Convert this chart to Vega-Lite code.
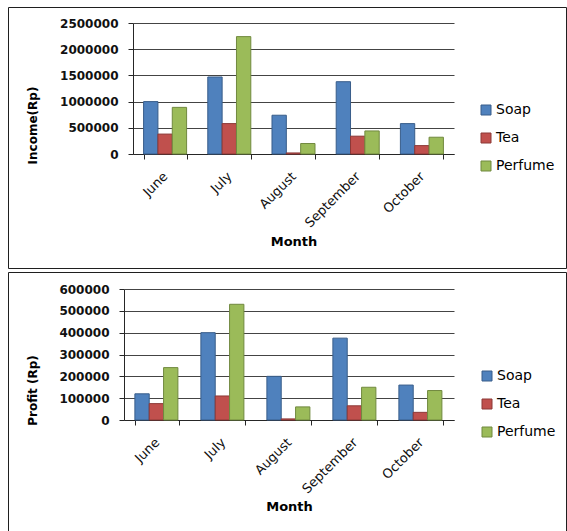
{
  "$schema": "https://vega.github.io/schema/vega-lite/v6.json",
  "padding": {"left": 3, "top": 6, "right": 0, "bottom": 0},
  "background": "white",
  "spacing": 2,
  "config": {
    "view": {"stroke": "#1f1f1f", "strokeWidth": 1},
    "font": "DejaVu Sans",
    "axis": {
      "domainColor": "#262626",
      "tickColor": "#262626",
      "gridColor": "#444444",
      "tickSize": 5,
      "labelColor": "#111",
      "titleColor": "#000",
      "titleFont": "DejaVu Sans",
      "titleFontWeight": "bold"
    },
    "axisX": {
      "labelFont": "DejaVu Sans",
      "labelFontSize": 13,
      "labelFontWeight": "normal",
      "labelAngle": -45,
      "labelAlign": "right",
      "labelBaseline": "middle",
      "labelPadding": 15,
      "tickBand": "extent",
      "grid": false,
      "titleFontSize": 13,
      "titleBaseline": "middle"
    },
    "axisY": {
      "labelFont": "DejaVu Sans",
      "labelFontSize": 12,
      "labelFontWeight": "bold",
      "labelPadding": 10,
      "grid": true,
      "format": "d",
      "titleFontSize": 12,
      "titleBaseline": "middle"
    },
    "legend": {
      "title": null,
      "orient": "none",
      "padding": 0,
      "symbolType": "square",
      "symbolSize": 100,
      "symbolStrokeWidth": 1,
      "labelFont": "DejaVu Sans",
      "labelFontSize": 14,
      "labelColor": "#000",
      "labelOffset": 3,
      "rowPadding": 14
    }
  },
  "datasets": {
    "income": [
      {"month": "June", "product": "Soap", "value": 1000000},
      {"month": "June", "product": "Tea", "value": 380000},
      {"month": "June", "product": "Perfume", "value": 890000},
      {"month": "July", "product": "Soap", "value": 1470000},
      {"month": "July", "product": "Tea", "value": 580000},
      {"month": "July", "product": "Perfume", "value": 2240000},
      {"month": "August", "product": "Soap", "value": 740000},
      {"month": "August", "product": "Tea", "value": 20000},
      {"month": "August", "product": "Perfume", "value": 200000},
      {"month": "September", "product": "Soap", "value": 1380000},
      {"month": "September", "product": "Tea", "value": 340000},
      {"month": "September", "product": "Perfume", "value": 440000},
      {"month": "October", "product": "Soap", "value": 580000},
      {"month": "October", "product": "Tea", "value": 160000},
      {"month": "October", "product": "Perfume", "value": 320000}
    ],
    "profit": [
      {"month": "June", "product": "Soap", "value": 120000},
      {"month": "June", "product": "Tea", "value": 75000},
      {"month": "June", "product": "Perfume", "value": 240000},
      {"month": "July", "product": "Soap", "value": 400000},
      {"month": "July", "product": "Tea", "value": 110000},
      {"month": "July", "product": "Perfume", "value": 530000},
      {"month": "August", "product": "Soap", "value": 200000},
      {"month": "August", "product": "Tea", "value": 5000},
      {"month": "August", "product": "Perfume", "value": 60000},
      {"month": "September", "product": "Soap", "value": 375000},
      {"month": "September", "product": "Tea", "value": 65000},
      {"month": "September", "product": "Perfume", "value": 150000},
      {"month": "October", "product": "Soap", "value": 160000},
      {"month": "October", "product": "Tea", "value": 35000},
      {"month": "October", "product": "Perfume", "value": 135000}
    ]
  },
  "resolve": {
    "scale": {"x": "independent", "y": "independent", "fill": "independent", "stroke": "independent"},
    "legend": {"fill": "independent", "stroke": "independent"}
  },
  "vconcat": [
    {
      "width": 558,
      "height": 261,
      "data": {"name": "income"},
      "mark": {"type": "bar", "strokeWidth": 1},
      "encoding": {
        "x": {
          "field": "month", "type": "nominal",
          "sort": ["June", "July", "August", "September", "October"],
          "scale": {"range": [125, 446], "paddingInner": 0.33, "paddingOuter": 0.165},
          "axis": {"title": "Month", "offset": -114, "titleY": 87}
        },
        "xOffset": {
          "field": "product", "type": "nominal",
          "sort": ["Soap", "Tea", "Perfume"],
          "scale": {"paddingInner": 0, "paddingOuter": 0}
        },
        "y": {
          "field": "value", "type": "quantitative",
          "scale": {"domain": [0, 2500000], "range": [147, 16], "nice": false},
          "axis": {
            "title": "Income(Rp)",
            "values": [0, 500000, 1000000, 1500000, 2000000, 2500000],
            "offset": -125, "titleX": -101, "titleY": 118
          }
        },
        "fill": {
          "field": "product", "type": "nominal",
          "scale": {"domain": ["Soap", "Tea", "Perfume"], "range": ["#4F81BD", "#C0504D", "#9BBB59"]},
          "legend": {"legendX": 471, "legendY": 96}
        },
        "stroke": {
          "field": "product", "type": "nominal",
          "scale": {"domain": ["Soap", "Tea", "Perfume"], "range": ["#385D8A", "#8C3836", "#71893F"]},
          "legend": {"legendX": 471, "legendY": 96}
        }
      }
    },
    {
      "width": 558,
      "height": 259,
      "data": {"name": "profit"},
      "mark": {"type": "bar", "strokeWidth": 1},
      "encoding": {
        "x": {
          "field": "month", "type": "nominal",
          "sort": ["June", "July", "August", "September", "October"],
          "scale": {"range": [116, 446], "paddingInner": 0.33, "paddingOuter": 0.165},
          "axis": {"title": "Month", "offset": -111, "titleY": 86}
        },
        "xOffset": {
          "field": "product", "type": "nominal",
          "sort": ["Soap", "Tea", "Perfume"],
          "scale": {"paddingInner": 0, "paddingOuter": 0}
        },
        "y": {
          "field": "value", "type": "quantitative",
          "scale": {"domain": [0, 600000], "range": [148, 17], "nice": false},
          "axis": {
            "title": "Profit (Rp)",
            "values": [0, 100000, 200000, 300000, 400000, 500000, 600000],
            "offset": -116, "titleX": -92, "titleY": 118
          }
        },
        "fill": {
          "field": "product", "type": "nominal",
          "scale": {"domain": ["Soap", "Tea", "Perfume"], "range": ["#4F81BD", "#C0504D", "#9BBB59"]},
          "legend": {"legendX": 472, "legendY": 97}
        },
        "stroke": {
          "field": "product", "type": "nominal",
          "scale": {"domain": ["Soap", "Tea", "Perfume"], "range": ["#385D8A", "#8C3836", "#71893F"]},
          "legend": {"legendX": 472, "legendY": 97}
        }
      }
    }
  ]
}
